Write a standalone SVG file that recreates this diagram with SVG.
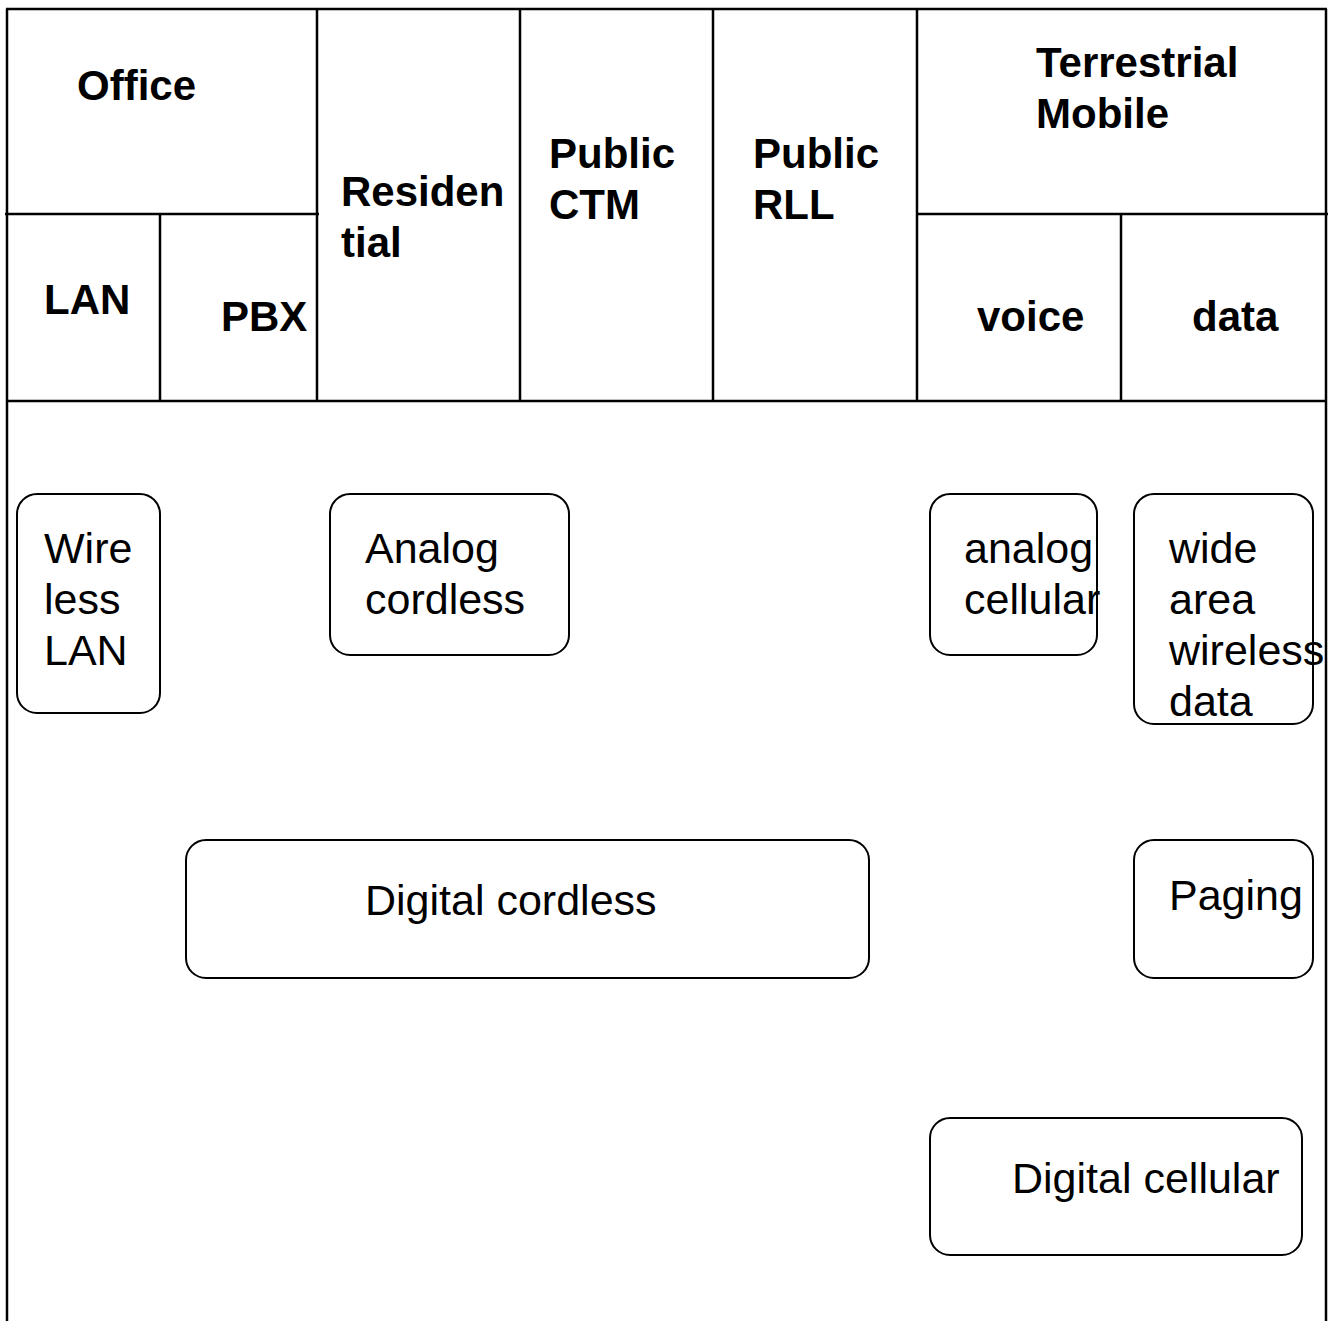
<svg xmlns="http://www.w3.org/2000/svg" width="1336" height="1321" viewBox="0 0 1336 1321">
<style>
.ln{stroke:#000;stroke-width:2.5;fill:none}
.box{fill:#fff;stroke:#000;stroke-width:2}
.b{font-family:"Liberation Sans",Arial,sans-serif;font-weight:bold;font-size:42px;fill:#000}
.r{font-family:"Liberation Sans",Arial,sans-serif;font-size:43px;fill:#000}
</style>
<rect width="1336" height="1321" fill="#fff"/>
<g id="grid">
<line class="ln" x1="7" y1="9" x2="7" y2="1321"/>
<line class="ln" x1="6" y1="9" x2="1327" y2="9"/>
<line class="ln" x1="1326" y1="9" x2="1326" y2="1321"/>
<line class="ln" x1="5" y1="214" x2="319" y2="214"/>
<line class="ln" x1="917" y1="214" x2="1328" y2="214"/>
<line class="ln" x1="6" y1="401" x2="1327" y2="401"/>
<line class="ln" x1="160" y1="214" x2="160" y2="401"/>
<line class="ln" x1="317" y1="9" x2="317" y2="401"/>
<line class="ln" x1="520" y1="9" x2="520" y2="401"/>
<line class="ln" x1="713" y1="9" x2="713" y2="401"/>
<line class="ln" x1="917" y1="9" x2="917" y2="401"/>
<line class="ln" x1="1121" y1="214" x2="1121" y2="401"/>
</g>
<g id="headers">
<text class="b" x="77" y="100">Office</text>
<text class="b" x="44" y="314">LAN</text>
<text class="b" x="221" y="331">PBX</text>
<text class="b" x="341" y="206">Residen<tspan x="341" y="257">tial</tspan></text>
<text class="b" x="549" y="168">Public<tspan x="549" y="219">CTM</tspan></text>
<text class="b" x="753" y="168">Public<tspan x="753" y="219">RLL</tspan></text>
<text class="b" x="1036" y="77">Terrestrial<tspan x="1036" y="128">Mobile</tspan></text>
<text class="b" x="977" y="331">voice</text>
<text class="b" x="1192" y="331">data</text>
</g>
<g id="connectors"></g>
<g id="wireless-lan">
<rect class="box" x="17" y="494" width="143" height="219" rx="20"/>
<text class="r" x="44" y="563">Wire<tspan x="44" y="614">less</tspan><tspan x="44" y="665">LAN</tspan></text>
</g>
<g id="analog-cordless">
<rect class="box" x="330" y="494" width="239" height="161" rx="20"/>
<text class="r" x="365" y="563">Analog<tspan x="365" y="614">cordless</tspan></text>
</g>
<g id="analog-cellular">
<rect class="box" x="930" y="494" width="167" height="161" rx="20"/>
<text class="r" x="964" y="563">analog<tspan x="964" y="614">cellular</tspan></text>
</g>
<g id="wide-area">
<rect class="box" x="1134" y="494" width="179" height="230" rx="20"/>
<text class="r" x="1169" y="563">wide<tspan x="1169" y="614">area</tspan><tspan x="1169" y="665">wireless</tspan><tspan x="1169" y="716">data</tspan></text>
</g>
<g id="digital-cordless">
<rect class="box" x="186" y="840" width="683" height="138" rx="20"/>
<text class="r" x="365" y="915">Digital cordless</text>
</g>
<g id="paging">
<rect class="box" x="1134" y="840" width="179" height="138" rx="20"/>
<text class="r" x="1169" y="910">Paging</text>
</g>
<g id="digital-cellular">
<rect class="box" x="930" y="1118" width="372" height="137" rx="20"/>
<text class="r" x="1012" y="1193">Digital cellular</text>
</g>
</svg>
